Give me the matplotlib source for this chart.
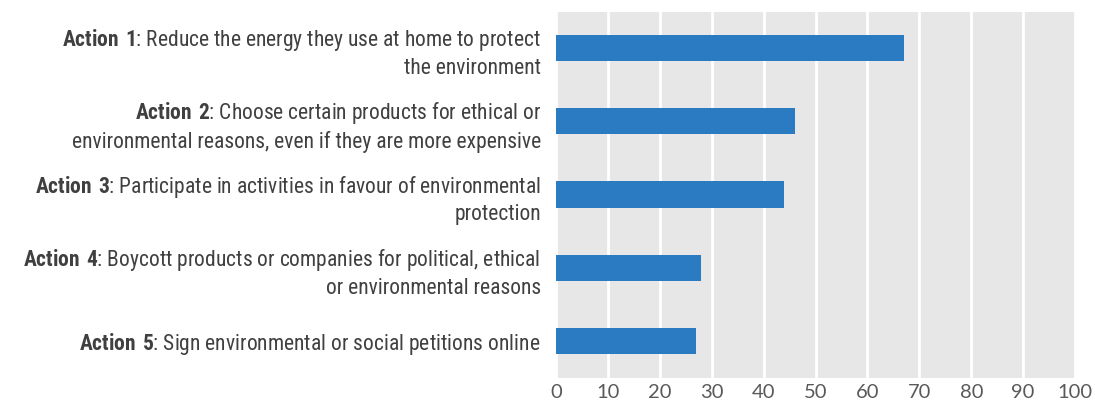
import matplotlib
matplotlib.use("Agg")
import matplotlib.pyplot as plt
from matplotlib import font_manager

actions = ["Action 1", "Action 2", "Action 3", "Action 4", "Action 5"]
descriptions = [
    "Reduce the energy they use at home to protect\nthe environment",
    "Choose certain products for ethical or\nenvironmental reasons, even if they are more expensive",
    "Participate in activities in favour of environmental\nprotection",
    "Boycott products or companies for political, ethical\nor environmental reasons",
    "Sign environmental or social petitions online",
]
values = [67, 46, 44, 28, 27]
x_ticks = [0, 10, 20, 30, 40, 50, 60, 70, 80, 90, 100]

# pick a narrow sans for the category labels
installed = {f.name for f in font_manager.fontManager.ttflist}
label_font = next(f for f in ["Liberation Sans Narrow", "Roboto Condensed",
                              "Archivo Narrow", "Liberation Sans"] if f in installed)

plt.rcParams["mathtext.fontset"] = "custom"
plt.rcParams["mathtext.rm"] = label_font
plt.rcParams["mathtext.bf"] = label_font + ":bold"

fig = plt.figure(figsize=(10.95, 4.05), dpi=100)
ax = fig.add_axes([0.5078, 0.0679, 0.474, 0.9037])
ax.set_facecolor("#e7e7e7")

pos = list(range(len(values)))
ax.barh(pos, values, height=0.36, color="#2b7bc2", zorder=3)
ax.set_xlim(0, 100)
ax.set_ylim(len(values) - 0.5, -0.5)
ax.set_xticks(x_ticks)
ax.xaxis.grid(True, color="white", linewidth=2, zorder=1)
ax.set_axisbelow(True)
for s in ax.spines.values():
    s.set_visible(False)

labels = []
for a, d in zip(actions, descriptions):
    first, *rest = d.split("\n")
    tag = a.replace(" ", r"\ ")
    lines = [r"$\mathbf{" + tag + "}$: " + first] + rest
    labels.append("\n".join(lines))
ax.set_yticks(pos)
ax.set_yticklabels(labels, fontfamily=label_font, fontsize=15.5, color="#404040")
for t in ax.get_yticklabels():
    t.set_multialignment("right")
    t.set_linespacing(1.3)
ax.tick_params(axis="y", length=0, pad=11)
ax.tick_params(axis="x", length=0, pad=5, labelsize=14.5, labelcolor="#595959")
for t in ax.get_xticklabels():
    t.set_fontfamily("Lato")

fig.savefig("out.png", dpi=100)
